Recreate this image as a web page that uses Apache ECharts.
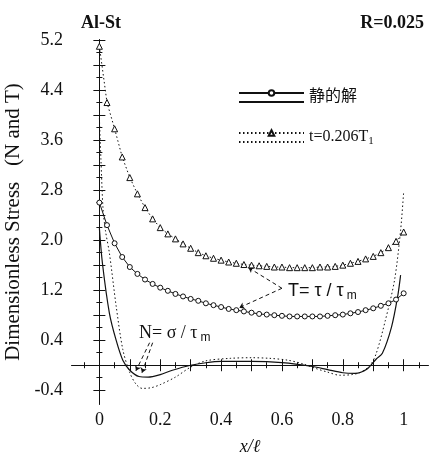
<!DOCTYPE html>
<html>
<head>
<meta charset="utf-8">
<script src="https://cdn.jsdelivr.net/npm/echarts@6/dist/echarts.min.js"></script>
<style>
html, body { margin: 0; padding: 0; background: #fff; }
#chart { width: 437px; height: 462px; }
</style>
</head>
<body>
<div id="chart"></div>
<script>
// x positions shared by the two marker curves
const xGrid = [0, 0.025, 0.05, 0.075, 0.1, 0.125, 0.15, 0.175, 0.2, 0.225, 0.25, 0.275, 0.3, 0.325, 0.35, 0.375,
  0.4, 0.425, 0.45, 0.475, 0.5, 0.525, 0.55, 0.575, 0.6, 0.625, 0.65, 0.675, 0.7, 0.725, 0.75, 0.775,
  0.8, 0.825, 0.85, 0.875, 0.9, 0.925, 0.95, 0.975, 1.0];

// T, t=0.206T1 (triangles)
const tDyn = [5.10, 4.20, 3.78, 3.33, 3.00, 2.74, 2.52, 2.34, 2.20, 2.10, 2.02, 1.94, 1.87, 1.80, 1.75, 1.71,
  1.68, 1.65, 1.63, 1.61, 1.60, 1.59, 1.58, 1.57, 1.57, 1.56, 1.56, 1.56, 1.56, 1.57, 1.57, 1.58,
  1.60, 1.63, 1.66, 1.70, 1.74, 1.80, 1.88, 1.98, 2.13];

// T, static (circles)
const tStatic = [2.60, 2.24, 1.95, 1.73, 1.57, 1.46, 1.37, 1.30, 1.24, 1.19, 1.14, 1.10, 1.06, 1.03, 0.99, 0.96,
  0.93, 0.90, 0.88, 0.86, 0.84, 0.82, 0.81, 0.80, 0.79, 0.78, 0.78, 0.78, 0.78, 0.78, 0.79, 0.80,
  0.81, 0.83, 0.85, 0.88, 0.91, 0.95, 0.99, 1.05, 1.15];

// N, static (solid)
const nStaticX = [0, 0.01, 0.033, 0.055, 0.077, 0.1, 0.13, 0.16, 0.2, 0.24, 0.3, 0.35, 0.4, 0.5, 0.6, 0.7,
  0.75, 0.8, 0.84, 0.88, 0.91, 0.93, 0.96, 0.98, 0.99];
const nStaticY = [2.19, 1.63, 0.83, 0.40, 0.08, -0.08, -0.18, -0.19, -0.15, -0.08, 0.00, 0.04, 0.06, 0.06, 0.04, -0.02,
  -0.07, -0.12, -0.13, -0.06, 0.10, 0.19, 0.61, 1.09, 1.44];

// N, t=0.206T1 (dotted)
const nDynX = [0, 0.005, 0.012, 0.02, 0.033, 0.055, 0.077, 0.1, 0.12, 0.14, 0.17, 0.2, 0.25, 0.3, 0.35, 0.43,
  0.5, 0.56, 0.62, 0.67, 0.71, 0.75, 0.79, 0.83, 0.86, 0.89, 0.91, 0.94, 0.97, 0.99, 1.0];
const nDynY = [3.95, 3.30, 2.50, 2.15, 1.79, 0.95, 0.25, -0.12, -0.30, -0.37, -0.36, -0.31, -0.19, -0.03, 0.07, 0.11,
  0.12, 0.11, 0.08, 0.02, -0.05, -0.11, -0.16, -0.15, -0.11, 0.00, 0.19, 0.72, 1.36, 2.16, 2.77];

const xLabels = [0, 0.2, 0.4, 0.6, 0.8, 1];
const xMajorTicks = [0, 0.1, 0.2, 0.3, 0.4, 0.5, 0.6, 0.7, 0.8, 0.9, 1.0];
const xMinorTicks = [-0.05, 0.05, 0.15, 0.25, 0.35, 0.45, 0.55, 0.65, 0.75, 0.85, 0.95, 1.05];
const yLabels = [-0.4, 0.4, 1.2, 2.0, 2.8, 3.6, 4.4, 5.2];
const yMajorTicks = [-0.4, 0, 0.4, 0.8, 1.2, 1.6, 2.0, 2.4, 2.8, 3.2, 3.6, 4.0, 4.4, 4.8, 5.2];
const yMinorTicks = [-0.2, 0.2, 0.6, 1.0, 1.4, 1.8, 2.2, 2.6, 3.0, 3.4, 3.8, 4.2, 4.6, 5.0];

const SERIF = "'Liberation Serif', 'Noto Sans CJK SC', serif";
const INK = '#111';

const chart = echarts.init(document.getElementById('chart'), null, { renderer: 'canvas' });

const zip = (a, b) => a.map((v, i) => [v, b[i]]);

function xAx(pos, ticks, len, withLabels) {
  return {
    type: 'value', position: pos, min: -0.09, max: 1.08,
    axisLine: { show: withLabels !== null, lineStyle: { color: INK, width: 1 } },
    splitLine: { show: false },
    axisTick: { show: true, inside: true, length: len, customValues: ticks, lineStyle: { color: INK } },
    axisLabel: withLabels ? {
      show: true, customValues: xLabels, margin: 7, color: INK,
      fontFamily: SERIF, fontSize: 18,
      formatter: v => String(v)
    } : { show: false }
  };
}

function yAx(pos, ticks, len, withLabels) {
  return {
    type: 'value', position: pos, min: -0.62, max: 5.2,
    axisLine: { show: withLabels !== null, lineStyle: { color: INK, width: 1 } },
    splitLine: { show: false },
    axisTick: { show: true, inside: true, length: len, customValues: ticks, lineStyle: { color: INK } },
    axisLabel: withLabels ? {
      show: true, customValues: yLabels, margin: 9, color: INK,
      fontFamily: SERIF, fontSize: 18,
      formatter: v => v.toFixed(1)
    } : { show: false }
  };
}

const xMain = xAx('bottom', xMajorTicks, 6, true);
xMain.name = 'x/ℓ';
xMain.nameLocation = 'middle';
xMain.nameGap = 34;
xMain.nameTextStyle = { fontFamily: SERIF, fontStyle: 'italic', fontSize: 18, color: INK };

const yMain = yAx('left', yMajorTicks, 6, true);
yMain.name = 'Dimensionless Stress   (N and T)';
yMain.nameLocation = 'middle';
yMain.nameGap = 36;
yMain.nameTextStyle = { fontFamily: SERIF, fontSize: 21, color: INK };

const dotted = [1.5, 2.5];
const legendText = { fontFamily: SERIF, fontSize: 16, lineHeight: 18, color: INK, padding: [8, 0, 0, 0] };

const option = {
  animation: false,
  backgroundColor: '#fff',
  grid: { left: 72, right: 9, top: 40, bottom: 58, outerBoundsMode: 'none' },
  title: [
    { text: 'Al-St', left: 76, top: 9, textStyle: { fontFamily: SERIF, fontWeight: 'bold', fontSize: 18, color: INK } },
    { text: 'R=0.025', right: 8, top: 9, textStyle: { fontFamily: SERIF, fontWeight: 'bold', fontSize: 18, color: INK } }
  ],
  legend: [
    {
      data: ['静的解', 't=0.206T1'],
      orient: 'vertical', left: 233, top: 75, itemWidth: 65, itemHeight: 7, itemGap: 14,
      textStyle: Object.assign({}, legendText, {
        rich: { s: { fontFamily: SERIF, fontSize: 11, padding: [8, 0, 0, 0] } }
      }),
      formatter: n => n === 't=0.206T1' ? 't=0.206T{s|1}' : n
    },
    {
      data: ['静的解 ', 't=0.206T1 '],
      orient: 'vertical', left: 233, top: 84, itemWidth: 65, itemHeight: 7, itemGap: 14,
      itemStyle: { opacity: 0 },
      textStyle: Object.assign({}, legendText, { color: 'rgba(0,0,0,0)' }),
      formatter: () => ' '
    }
  ],
  xAxis: [
    xMain,
    xAx('bottom', xMinorTicks, 3, false),
    xAx('top', xMajorTicks, 6, false),
    xAx('top', xMinorTicks, 3, false)
  ],
  yAxis: [
    yMain,
    yAx('left', yMinorTicks, 3, false),
    yAx('right', yMajorTicks, 6, false),
    yAx('right', yMinorTicks, 3, false)
  ],
  graphic: [
    {
      type: 'text', left: 288, top: 282,
      style: {
        text: 'T= τ / τ{m|m}', fill: INK,
        font: "18px 'Liberation Sans', sans-serif",
        rich: { m: { font: "12px 'Liberation Sans', sans-serif", padding: [10, 0, 0, 3] } }
      }
    },
    {
      type: 'text', left: 139, top: 324,
      style: {
        text: 'N= σ / τ{m|m}', fill: INK,
        font: "18px 'Liberation Serif', serif",
        rich: { m: { font: "12px 'Liberation Sans', sans-serif", padding: [10, 0, 0, 3] } }
      }
    }
  ],
  series: [
    {
      name: '静的解', type: 'line', data: zip(xGrid, tStatic),
      symbol: 'circle', symbolSize: 5, showSymbol: true,
      itemStyle: { color: '#fff', borderColor: INK, borderWidth: 1 },
      lineStyle: { color: INK, width: 1 }, z: 3
    },
    {
      name: 't=0.206T1', type: 'line', data: zip(xGrid, tDyn),
      symbol: 'triangle', symbolSize: 6, showSymbol: true,
      itemStyle: { color: '#fff', borderColor: INK, borderWidth: 1 },
      lineStyle: { color: INK, width: 1, type: dotted }, z: 3
    },
    {
      name: '静的解 ', type: 'line', data: zip(nStaticX, nStaticY), smooth: 0.3,
      symbol: 'none', itemStyle: { color: INK }, lineStyle: { color: INK, width: 1.2 },
      markLine: {
        silent: true, symbol: ['none', 'arrow'], symbolSize: 5,
        label: { show: false },
        lineStyle: { color: INK, width: 1, type: [4, 3] },
        data: [
          [{ coord: [0.6, 1.23] }, { coord: [0.49, 1.56] }],
          [{ coord: [0.6, 1.23] }, { coord: [0.46, 0.92] }],
          [{ coord: [0.175, 0.36] }, { coord: [0.14, -0.12] }],
          [{ coord: [0.165, 0.36] }, { coord: [0.12, -0.09] }]
        ]
      }
    },
    {
      name: 't=0.206T1 ', type: 'line', data: zip(nDynX, nDynY), smooth: 0.3,
      symbol: 'none', itemStyle: { color: INK }, lineStyle: { color: INK, width: 1, type: dotted }
    }
  ]
};

chart.setOption(option);
</script>
</body>
</html>
